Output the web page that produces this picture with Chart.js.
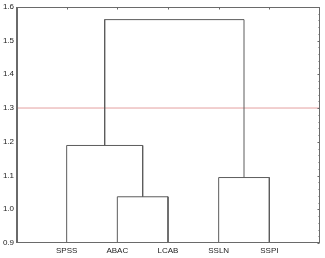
<!DOCTYPE html>
<html><head><meta charset="utf-8">
<script src="https://cdn.jsdelivr.net/npm/chart.js@4.4.1/dist/chart.umd.min.js"></script>
<style>html,body{margin:0;padding:0;background:#fff}#w{width:325px;height:258px}</style>
</head><body><div id="w"><canvas id="c"></canvas></div>
<script>
// Leaves (order along x axis)
const leaves = ['SPSS', 'ABAC', 'LCAB', 'SSLN', 'SSPI'];
// Linkage: clusters 0..4 are leaves, merged clusters get ids 5,6,...
const mergeA = [1, 3, 0, 6];
const mergeB = [2, 4, 5, 7];
const mergeHeight = [1.037, 1.094, 1.189, 1.562];
const cutoff = 1.3;
const yTicks = [0.9, 1.0, 1.1, 1.2, 1.3, 1.4, 1.5, 1.6];

// build dendrogram U-links in data space
const nodeX = leaves.map((_, i) => i + 1);
const nodeY = leaves.map(() => 0.9);
const datasets = [];
mergeA.forEach((a, k) => {
  const b = mergeB[k], h = mergeHeight[k];
  datasets.push({
    data: [{x: nodeX[a], y: nodeY[a]}, {x: nodeX[a], y: h}, {x: nodeX[b], y: h}, {x: nodeX[b], y: nodeY[b]}],
    borderColor: '#5c5c5c', borderWidth: 1, pointRadius: 0, fill: false, tension: 0
  });
  nodeX.push((nodeX[a] + nodeX[b]) / 2);
  nodeY.push(h);
});
datasets.push({
  data: [{x: 0, y: cutoff}, {x: 6, y: cutoff}],
  borderColor: '#e4a0a0', borderWidth: 1, pointRadius: 0, fill: false
});

const frame = {
  id: 'frame',
  afterDatasetsDraw(chart) {
    const a = chart.chartArea, ctx = chart.ctx;
    const L = Math.round(a.left) + 0.5, T = Math.round(a.top) + 0.5;
    const R = Math.round(a.right) - 0.5, B = Math.round(a.bottom) - 0.5;
    ctx.save();
    ctx.strokeStyle = '#6a6a6a'; ctx.lineWidth = 1;
    ctx.strokeRect(L, T, R - L, B - T);
    ctx.beginPath();
    ctx.moveTo(L + 1, T); ctx.lineTo(L + 1, B);
    // small inward ticks on right and top
    const ys = chart.scales.y;
    yTicks.forEach(v => { const p = Math.round(ys.getPixelForValue(v)) + 0.5; ctx.moveTo(R, p); ctx.lineTo(R - 2, p); });
    for (let i = 0; i < yTicks.length - 1; i++) {
      for (let j = 1; j < 5; j++) {
        const p = Math.round(ys.getPixelForValue(yTicks[i] + j * 0.02)) + 0.5;
        ctx.moveTo(R, p); ctx.lineTo(R - 1, p);
      }
    }
    const xs = chart.scales.x;
    leaves.forEach((_, i) => { const p = Math.round(xs.getPixelForValue(i + 1)) + 0.5; ctx.moveTo(p, T); ctx.lineTo(p, T + 2); });
    ctx.stroke();
    ctx.restore();
  }
};

Chart.defaults.font.family = "'Liberation Sans', Arial, sans-serif";
Chart.defaults.font.size = 8;
Chart.defaults.color = '#222';

new Chart(document.getElementById('c'), {
  type: 'line',
  data: {datasets},
  options: {
    responsive: true, maintainAspectRatio: false, animation: false,
    layout: {padding: {left: 0, right: 5, top: 6, bottom: 0}},
    plugins: {legend: {display: false}, tooltip: {enabled: false}},
    scales: {
      x: {
        type: 'linear', min: 0, max: 6,
        afterBuildTicks(s) { s.ticks = leaves.map((_, i) => ({value: i + 1})); },
        ticks: {callback: v => leaves[v - 1] || '', padding: 3, maxRotation: 0, autoSkip: false},
        grid: {display: false, drawTicks: false},
        border: {display: false},
        afterFit(s) { s.height = 15; }
      },
      y: {
        min: 0.9, max: 1.6,
        afterBuildTicks(s) { s.ticks = yTicks.map(v => ({value: v})); },
        ticks: {callback: v => v.toFixed(1), padding: 2},
        grid: {display: false, drawTicks: false},
        border: {display: false},
        afterFit(s) { s.width = 16; }
      }
    }
  },
  plugins: [frame]
});
</script></body></html>
